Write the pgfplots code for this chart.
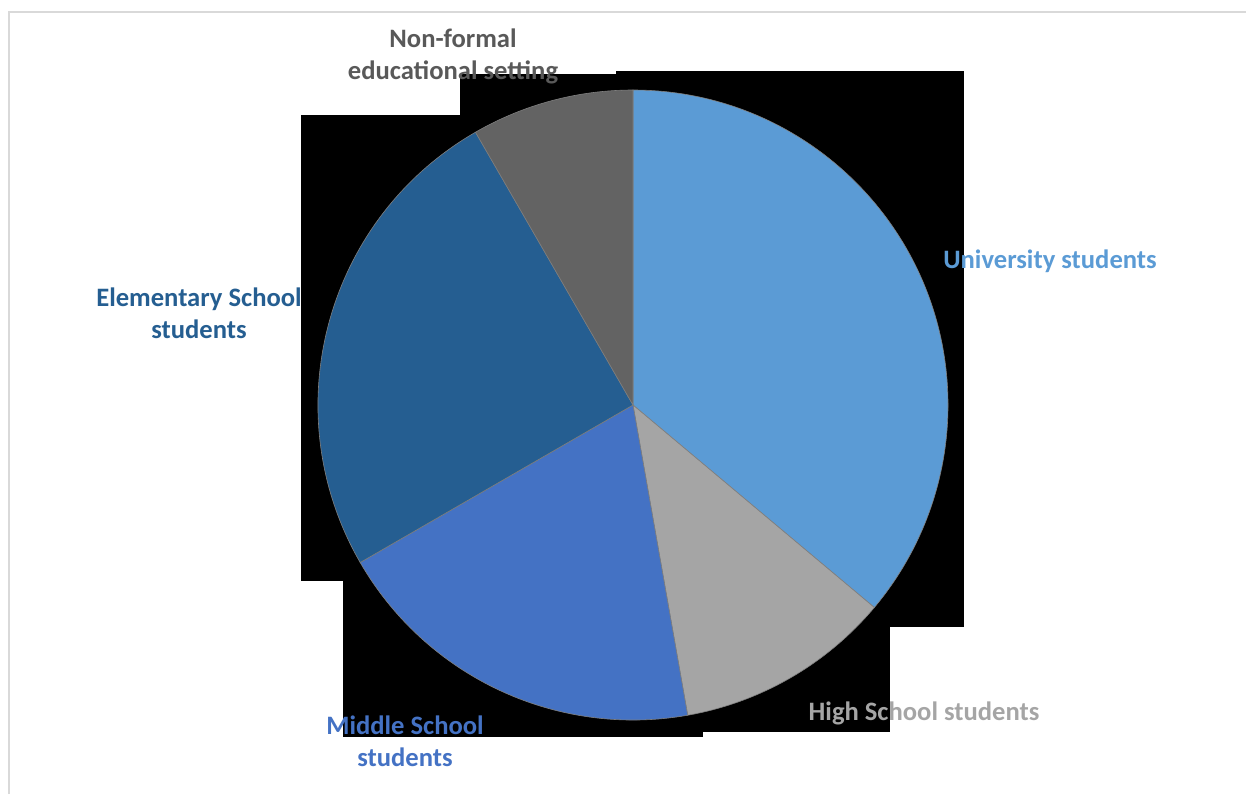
\documentclass[border=0pt]{standalone}
\usepackage{fontspec}
\setmainfont{Carlito}
\usepackage{pgfplots}
\pgfplotsset{compat=1.18}
\definecolor{cUni}{HTML}{5B9BD5}
\definecolor{cHigh}{HTML}{A5A5A5}
\definecolor{cMid}{HTML}{4472C4}
\definecolor{cEle}{HTML}{255E91}
\definecolor{cNon}{HTML}{636363}
\definecolor{cNonTxt}{HTML}{595959}
\definecolor{frame}{HTML}{D9D9D9}
\definecolor{edge}{HTML}{7F7F7F}
\begin{document}
\begin{tikzpicture}
\useasboundingbox (0,0) rectangle (623pt,397pt);
\begin{axis}[at={(0,0)}, anchor=south west, width=623pt, height=397pt,
  scale only axis, xmin=0, xmax=1246, ymin=0, ymax=794, y dir=reverse,
  hide axis, clip=false]
% chart frame
\draw[frame, line width=1pt] (axis cs:9,794) -- (axis cs:9,12) -- (axis cs:1246,12);
% black label-background artefacts
\fill[black] (axis cs:616,71) rectangle (axis cs:964,627);
\fill[black] (axis cs:460,74) rectangle (axis cs:640,420);
\fill[black] (axis cs:301,115) rectangle (axis cs:640,581);
\fill[black] (axis cs:343,420) rectangle (axis cs:703,737);
\fill[black] (axis cs:600,500) rectangle (axis cs:890,732);
% pie: values 13, 4, 7, 9, 3 (total 36), clockwise from 12 o'clock
\filldraw[fill=cUni, draw=edge, line width=0.3pt] (axis cs:633,405) -- ++(90:157.5pt) arc[start angle=90, delta angle=-360*13/36, radius=157.5pt] -- cycle;
\filldraw[fill=cHigh, draw=edge, line width=0.3pt] (axis cs:633,405) -- ++(-40:157.5pt) arc[start angle=-40, delta angle=-360*4/36, radius=157.5pt] -- cycle;
\filldraw[fill=cMid, draw=edge, line width=0.3pt] (axis cs:633,405) -- ++(-80:157.5pt) arc[start angle=-80, delta angle=-360*7/36, radius=157.5pt] -- cycle;
\filldraw[fill=cEle, draw=edge, line width=0.3pt] (axis cs:633,405) -- ++(-150:157.5pt) arc[start angle=-150, delta angle=-360*9/36, radius=157.5pt] -- cycle;
\filldraw[fill=cNon, draw=edge, line width=0.3pt] (axis cs:633,405) -- ++(-240:157.5pt) arc[start angle=-240, delta angle=-360*3/36, radius=157.5pt] -- cycle;
% labels
\tikzset{lbl/.style={font=\fontsize{13.3}{16}\selectfont\bfseries, align=center, inner sep=0pt}}
\node[lbl, text=cNonTxt] at (axis cs:453,56) {Non-formal\\educational setting};
\node[lbl, text=cUni] at (axis cs:1050,261) {University students};
\node[lbl, text=cEle] at (axis cs:199,313) {Elementary School\\students};
\node[lbl, text=cMid] at (axis cs:405,741) {Middle School\\students};
\node[lbl, text=cHigh] at (axis cs:924,713) {High School students};
\end{axis}
\end{tikzpicture}
\end{document}
